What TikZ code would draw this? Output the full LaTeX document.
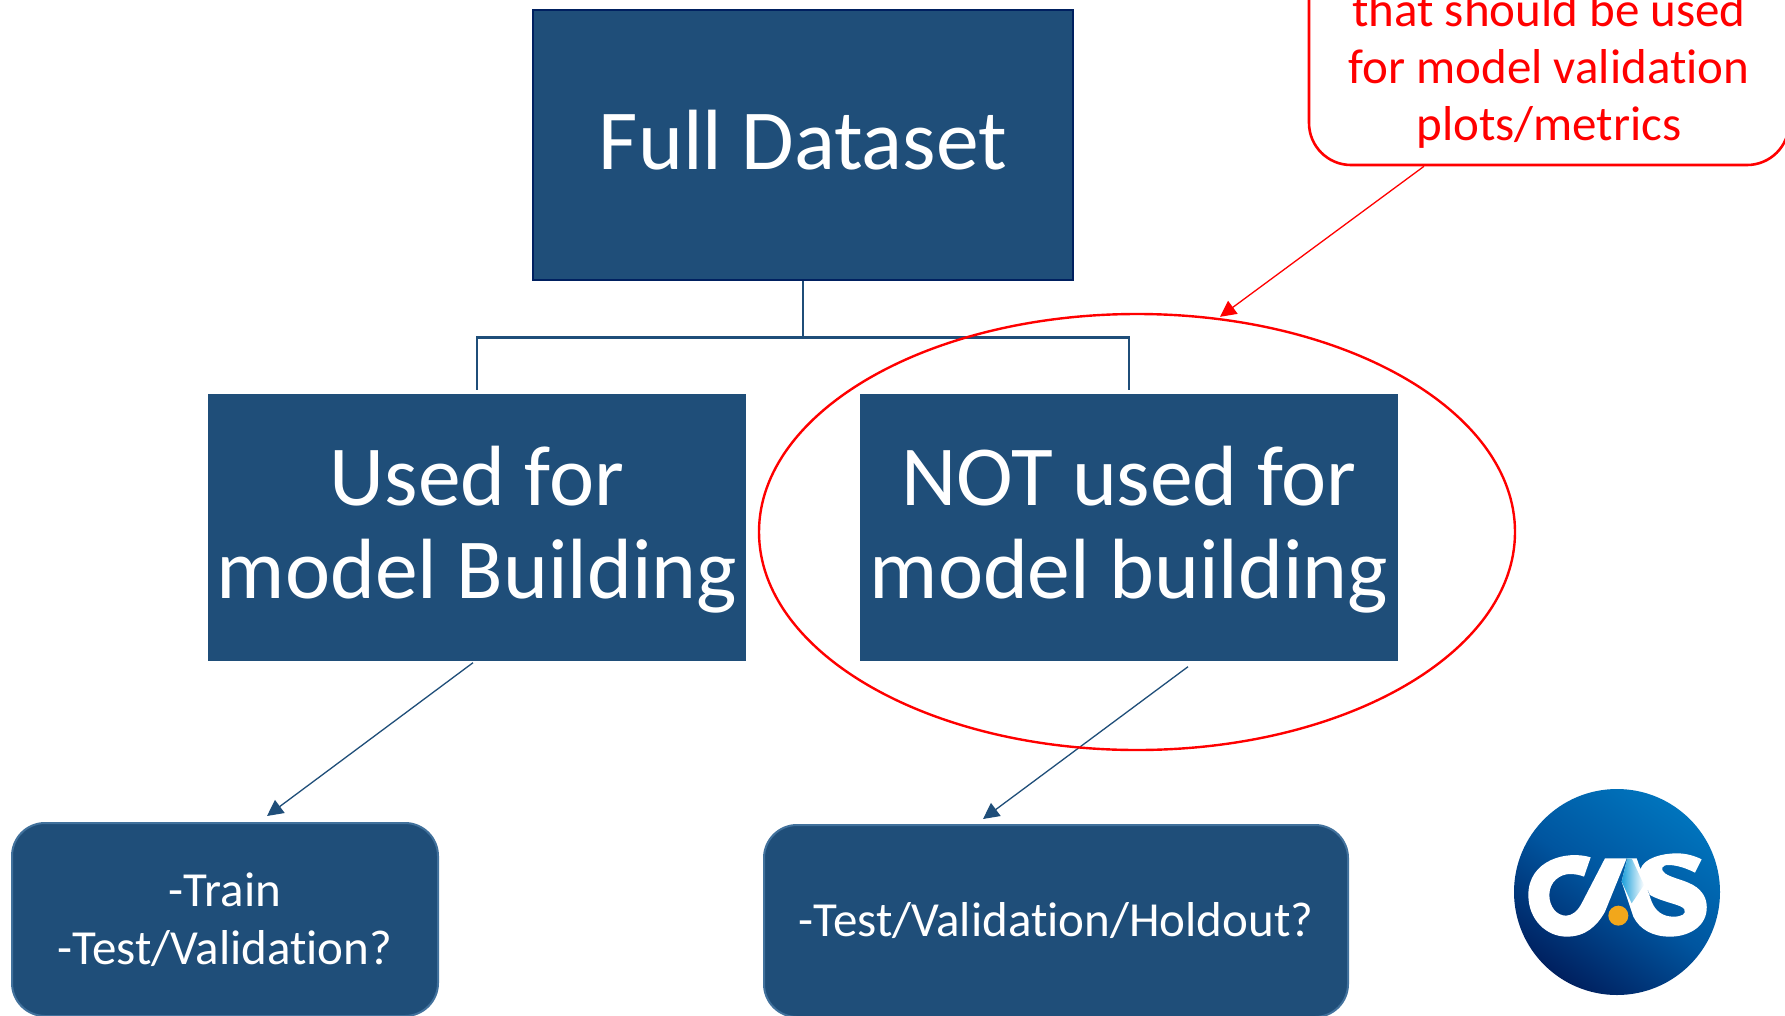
\documentclass[tikz,border=0pt]{standalone}
\usepackage{fontspec}
\setmainfont[Ligatures=NoCommon]{Carlito}
\usetikzlibrary{shapes.geometric,arrows.meta}
\definecolor{boxblue}{HTML}{1F4E79}
\definecolor{boxedge}{HTML}{41719C}
\definecolor{navyedge}{HTML}{002060}
\definecolor{logodark}{HTML}{00205F}
\definecolor{logomid}{HTML}{00559F}
\definecolor{logolight}{HTML}{0074BD}
\definecolor{logogold}{HTML}{F2A71B}
\definecolor{logocyan}{HTML}{1DA0DB}
\tikzset{
  x=1pt,y=-1pt,
  bigbox/.style={rectangle,fill=boxblue,inner sep=0pt,
     minimum width=538pt,minimum height=267pt},
  bigtext/.style={text=white,inner sep=0pt,align=center,font=\fontsize{85.5}{93}\selectfont},
  smallbox/.style={rectangle,rounded corners=33pt,draw=boxedge,line width=2pt,fill=boxblue,text=white,inner sep=0pt,align=center,
     font=\fontsize{49}{58}\selectfont},
  tree/.style={draw=boxblue,line width=2.8pt},
  darrow/.style={draw=boxblue,line width=1.3pt,-{Triangle[length=16pt,width=16pt]}},
  rarrow/.style={draw=red,line width=1.3pt,-{Triangle[length=16pt,width=16pt]}},
}
\begin{document}
\begin{tikzpicture}
\useasboundingbox (0,0) rectangle (1785,1015);
\fill[white] (0,0) rectangle (1785,1015);
% top and middle boxes
\node[bigbox,draw=navyedge,line width=2.4pt,minimum width=540pt,minimum height=270pt] (full) at (803,145) {};
\node[bigtext] (fulltext) at (803,140) {Full Dataset};
\node[bigbox] (used) at (477,527) {};
\node[bigtext] (usedtext) at (477,529.5) {Used for\\model Building};
\node[bigbox] (notused) at (1129,527) {};
\node[bigtext] (notusedtext) at (1129,529.5) {NOT used for\\model building};
% bottom boxes
\node[smallbox,minimum width=426pt,minimum height=193pt] (train) at (225,919.5) {-Train\\-Test/Validation?};
\node[smallbox,minimum width=584pt,minimum height=192pt] (holdout) at (1056,921) {\raisebox{-4pt}{-Test/Validation/Holdout?}};
% tree
\draw[tree] (full.south) -- ++(0,56) -| ([yshift=3pt]used.north);
\draw[tree] (full.south) -- ++(0,56) -| ([yshift=3pt]notused.north);
% arrows
\draw[darrow] ([xshift=-4pt,yshift=-2pt]used.south) -- ([xshift=42pt,yshift=6pt]train.north);
\draw[darrow] ([xshift=59pt,yshift=-6pt]notused.south) -- ([xshift=-73pt,yshift=5pt]holdout.north);
% red ellipse
\node[ellipse,draw=red,line width=2.4pt,inner sep=0pt,minimum width=756pt,minimum height=436pt] (redring) at (1137,532) {};
% callout
\node[rectangle,rounded corners=42pt,draw=red,line width=2.6pt,inner sep=0pt,
  minimum width=480pt,minimum height=300pt] (callout) at (1549,15) {};
\node[text=red,inner sep=0pt,align=center,font=\fontsize{49}{57}\selectfont] (calltext) at (1549,70)
  {that should be used\\for model validation\\plots/metrics};
\draw[rarrow] ([xshift=-125pt]callout.south) -- ([xshift=83pt,yshift=-4pt]redring.north);
% logo
\shade[bottom color=logodark,top color=logolight,middle color=logomid,shading angle=-35] (1617,892) circle (103);
\begin{scope}[shift={(1490,770)},x=0.3333pt,y=-0.3333pt]
\fill[white] (302,262) .. controls (230,240) and (115,270) .. (115,375)
  .. controls (115,450) and (170,500) .. (230,500)
  .. controls (285,500) and (320,470) .. (345,425) -- (410,265) -- (345,265) -- (275,400)
  .. controls (262,425) and (245,437) .. (228,437)
  .. controls (200,437) and (178,410) .. (178,375)
  .. controls (178,335) and (210,312) .. (240,312)
  .. controls (255,312) and (270,315) .. (282,320) -- cycle;
\fill[white] (412,265) -- (440,265) -- (485,395)
  .. controls (497,425) and (520,440) .. (550,440)
  .. controls (575,440) and (590,432) .. (583,418)
  .. controls (575,403) and (520,398) .. (480,375)
  -- (450,300)
  .. controls (462,262) and (520,250) .. (560,250)
  .. controls (590,250) and (615,258) .. (635,268) -- (615,308)
  .. controls (590,295) and (560,285) .. (535,285)
  .. controls (515,285) and (510,298) .. (525,310)
  .. controls (545,325) and (590,330) .. (620,352)
  .. controls (645,372) and (652,395) .. (650,420)
  .. controls (645,475) and (590,500) .. (540,500)
  .. controls (490,500) and (450,480) .. (430,440) -- (395,335) -- cycle;
\shade[left color=logocyan,right color=white] (412,265) -- (425,265) -- (462,345) -- (425,400) -- (395,335) -- cycle;
\fill[logogold] (385,437) circle (10pt);
\end{scope}
\end{tikzpicture}
\end{document}
